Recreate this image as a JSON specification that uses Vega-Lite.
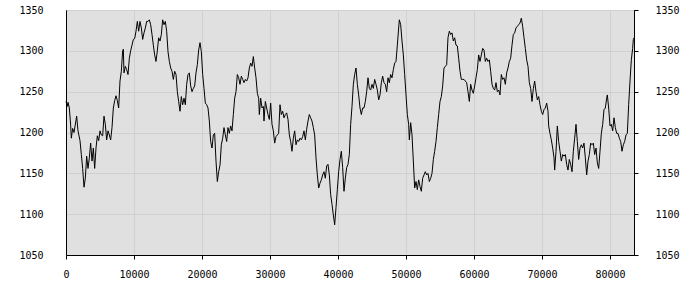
{
  "$schema": "https://vega.github.io/schema/vega-lite/v6.json",
  "width": 568,
  "height": 245,
  "autosize": {"type": "none"},
  "padding": {"left": 66, "top": 10, "right": 66, "bottom": 45},
  "background": "#ffffff",
  "config": {
    "view": {"fill": "#e0e0e0", "stroke": "#000000", "strokeWidth": 1},
    "axis": {
      "labelFont": "DejaVu Sans Mono",
      "labelFontSize": 10,
      "labelColor": "#000000",
      "labelFlush": false,
      "labelOverlap": false,
      "domainColor": "#000000",
      "tickColor": "#000000",
      "gridColor": "#d0d0d0",
      "gridOpacity": 1,
      "title": null
    }
  },
  "data": {
    "values": [
      {"t":0,"v":1238},{"t":196,"v":1232},{"t":294,"v":1237},{"t":490,"v":1230},{"t":686,"v":1209},{"t":784,"v":1193},{"t":981,"v":1205},{"t":1177,"v":1200},{"t":1569,"v":1220},{"t":1765,"v":1202},{"t":2059,"v":1190},{"t":2255,"v":1173},{"t":2451,"v":1156},{"t":2647,"v":1133},{"t":2843,"v":1144},{"t":3039,"v":1171},{"t":3235,"v":1156},{"t":3431,"v":1169},{"t":3628,"v":1187},{"t":3824,"v":1165},{"t":4020,"v":1181},{"t":4216,"v":1156},{"t":4412,"v":1181},{"t":4608,"v":1196},{"t":4804,"v":1190},{"t":5000,"v":1202},{"t":5196,"v":1197},{"t":5392,"v":1196},{"t":5588,"v":1220},{"t":5784,"v":1210},{"t":5981,"v":1191},{"t":6177,"v":1202},{"t":6373,"v":1197},{"t":6569,"v":1191},{"t":6765,"v":1206},{"t":6961,"v":1230},{"t":7157,"v":1239},{"t":7353,"v":1245},{"t":7549,"v":1239},{"t":7745,"v":1230},{"t":7941,"v":1263},{"t":8137,"v":1275},{"t":8333,"v":1300},{"t":8431,"v":1302},{"t":8530,"v":1273},{"t":8726,"v":1281},{"t":8922,"v":1277},{"t":9118,"v":1271},{"t":9314,"v":1291},{"t":9510,"v":1300},{"t":9706,"v":1307},{"t":9902,"v":1314},{"t":10098,"v":1315},{"t":10294,"v":1324},{"t":10490,"v":1336},{"t":10686,"v":1324},{"t":10882,"v":1336},{"t":11079,"v":1328},{"t":11275,"v":1314},{"t":11471,"v":1322},{"t":11667,"v":1328},{"t":11863,"v":1336},{"t":12059,"v":1336},{"t":12255,"v":1338},{"t":12451,"v":1332},{"t":12647,"v":1320},{"t":12843,"v":1307},{"t":13039,"v":1295},{"t":13235,"v":1287},{"t":13431,"v":1300},{"t":13628,"v":1316},
      {"t":13824,"v":1312},{"t":14020,"v":1320},{"t":14216,"v":1338},{"t":14412,"v":1332},{"t":14608,"v":1336},{"t":14804,"v":1324},{"t":15000,"v":1299},{"t":15197,"v":1287},{"t":15393,"v":1279},{"t":15589,"v":1275},{"t":15785,"v":1265},{"t":15981,"v":1275},{"t":16177,"v":1271},{"t":16373,"v":1250},{"t":16569,"v":1238},{"t":16765,"v":1226},{"t":16961,"v":1244},{"t":17157,"v":1234},{"t":17353,"v":1242},{"t":17549,"v":1234},{"t":17746,"v":1259},{"t":17942,"v":1271},{"t":18138,"v":1273},{"t":18334,"v":1257},{"t":18530,"v":1250},{"t":18726,"v":1254},{"t":18922,"v":1257},{"t":19118,"v":1273},{"t":19314,"v":1283},{"t":19510,"v":1301},{"t":19706,"v":1310},{"t":19902,"v":1299},{"t":20099,"v":1271},{"t":20295,"v":1254},{"t":20491,"v":1236},{"t":20687,"v":1234},{"t":20883,"v":1230},{"t":21079,"v":1214},{"t":21275,"v":1189},{"t":21471,"v":1181},{"t":21667,"v":1197},{"t":21863,"v":1199},{"t":22059,"v":1165},{"t":22255,"v":1140},{"t":22451,"v":1152},{"t":22648,"v":1160},{"t":22844,"v":1185},{"t":23040,"v":1193},{"t":23236,"v":1206},{"t":23432,"v":1197},{"t":23628,"v":1189},{"t":23824,"v":1206},{"t":24020,"v":1199},{"t":24216,"v":1208},{"t":24412,"v":1202},{"t":24608,"v":1222},{"t":24804,"v":1242},{"t":25001,"v":1250},{"t":25197,"v":1271},{"t":25393,"v":1267},{"t":25589,"v":1259},{"t":25785,"v":1269},{"t":25981,"v":1265},{"t":26177,"v":1261},{"t":26373,"v":1265},{"t":26569,"v":1263},{"t":26765,"v":1267},{"t":26961,"v":1279},{"t":27157,"v":1285},{"t":27353,"v":1281},{"t":27550,"v":1293},{"t":27746,"v":1279},
      {"t":27941,"v":1267},{"t":28137,"v":1248},{"t":28333,"v":1242},{"t":28431,"v":1222},{"t":28627,"v":1242},{"t":28823,"v":1230},{"t":29019,"v":1232},{"t":29117,"v":1214},{"t":29314,"v":1238},{"t":29510,"v":1230},{"t":29706,"v":1222},{"t":29902,"v":1216},{"t":30098,"v":1236},{"t":30294,"v":1210},{"t":30490,"v":1202},{"t":30686,"v":1187},{"t":30882,"v":1195},{"t":31078,"v":1197},{"t":31274,"v":1199},{"t":31470,"v":1234},{"t":31667,"v":1222},{"t":31863,"v":1226},{"t":32059,"v":1218},{"t":32255,"v":1222},{"t":32451,"v":1224},{"t":32647,"v":1216},{"t":32843,"v":1197},{"t":33039,"v":1189},{"t":33235,"v":1177},{"t":33431,"v":1193},{"t":33628,"v":1202},{"t":33824,"v":1185},{"t":34020,"v":1191},{"t":34216,"v":1189},{"t":34412,"v":1193},{"t":34608,"v":1191},{"t":34804,"v":1195},{"t":35000,"v":1202},{"t":35196,"v":1191},{"t":35392,"v":1204},{"t":35588,"v":1214},{"t":35784,"v":1222},{"t":35980,"v":1218},{"t":36176,"v":1214},{"t":36372,"v":1206},{"t":36568,"v":1197},{"t":36765,"v":1169},{"t":36961,"v":1148},{"t":37157,"v":1132},{"t":37353,"v":1138},{"t":37549,"v":1142},{"t":37745,"v":1148},{"t":37941,"v":1152},{"t":38137,"v":1144},{"t":38333,"v":1159},{"t":38529,"v":1161},{"t":38725,"v":1148},{"t":38921,"v":1124},{"t":39118,"v":1112},{"t":39314,"v":1099},{"t":39510,"v":1087},{"t":39706,"v":1108},{"t":39902,"v":1130},{"t":40098,"v":1152},{"t":40294,"v":1167},{"t":40490,"v":1177},{"t":40686,"v":1157},{"t":40882,"v":1128},{"t":41078,"v":1144},{"t":41274,"v":1157},{"t":41470,"v":1161},{"t":41666,"v":1173},{"t":41863,"v":1210},
      {"t":42059,"v":1232},{"t":42255,"v":1259},{"t":42451,"v":1271},{"t":42647,"v":1279},{"t":42843,"v":1259},{"t":43039,"v":1246},{"t":43235,"v":1230},{"t":43432,"v":1222},{"t":43628,"v":1230},{"t":43824,"v":1230},{"t":44020,"v":1238},{"t":44216,"v":1250},{"t":44412,"v":1267},{"t":44608,"v":1254},{"t":44804,"v":1252},{"t":45000,"v":1259},{"t":45196,"v":1254},{"t":45392,"v":1265},{"t":45588,"v":1259},{"t":45784,"v":1252},{"t":45981,"v":1240},{"t":46177,"v":1246},{"t":46373,"v":1261},{"t":46569,"v":1269},{"t":46765,"v":1261},{"t":46961,"v":1259},{"t":47157,"v":1250},{"t":47353,"v":1267},{"t":47549,"v":1261},{"t":47745,"v":1271},{"t":47941,"v":1267},{"t":48137,"v":1277},{"t":48334,"v":1285},{"t":48530,"v":1287},{"t":48726,"v":1307},{"t":48922,"v":1328},{"t":49020,"v":1338},{"t":49216,"v":1332},{"t":49412,"v":1312},{"t":49608,"v":1295},{"t":49804,"v":1271},{"t":50000,"v":1246},{"t":50196,"v":1222},{"t":50392,"v":1210},{"t":50490,"v":1191},{"t":50686,"v":1212},{"t":50883,"v":1197},{"t":51079,"v":1165},{"t":51275,"v":1132},{"t":51471,"v":1140},{"t":51667,"v":1130},{"t":51863,"v":1142},{"t":52059,"v":1134},{"t":52255,"v":1128},{"t":52451,"v":1144},{"t":52647,"v":1148},{"t":52843,"v":1152},{"t":53039,"v":1148},{"t":53236,"v":1150},{"t":53432,"v":1140},{"t":53628,"v":1144},{"t":53824,"v":1150},{"t":54020,"v":1167},{"t":54216,"v":1177},{"t":54412,"v":1189},{"t":54608,"v":1206},{"t":54804,"v":1222},{"t":55000,"v":1238},{"t":55196,"v":1244},{"t":55392,"v":1257},{"t":55588,"v":1279},{"t":55785,"v":1281},{"t":55981,"v":1283},
      {"t":56176,"v":1316},{"t":56372,"v":1324},{"t":56568,"v":1320},{"t":56764,"v":1322},{"t":56960,"v":1312},{"t":57156,"v":1316},{"t":57352,"v":1307},{"t":57549,"v":1306},{"t":57745,"v":1291},{"t":57941,"v":1275},{"t":58137,"v":1265},{"t":58333,"v":1265},{"t":58529,"v":1265},{"t":58725,"v":1263},{"t":58921,"v":1261},{"t":59117,"v":1250},{"t":59313,"v":1238},{"t":59509,"v":1259},{"t":59705,"v":1252},{"t":59902,"v":1248},{"t":60098,"v":1257},{"t":60294,"v":1267},{"t":60490,"v":1277},{"t":60686,"v":1295},{"t":60882,"v":1287},{"t":61078,"v":1295},{"t":61274,"v":1303},{"t":61470,"v":1301},{"t":61666,"v":1287},{"t":61862,"v":1291},{"t":62058,"v":1287},{"t":62254,"v":1289},{"t":62451,"v":1275},{"t":62647,"v":1259},{"t":62843,"v":1254},{"t":63039,"v":1252},{"t":63235,"v":1261},{"t":63431,"v":1250},{"t":63627,"v":1252},{"t":63823,"v":1246},{"t":64019,"v":1271},{"t":64215,"v":1265},{"t":64411,"v":1267},{"t":64607,"v":1259},{"t":64804,"v":1273},{"t":65000,"v":1279},{"t":65196,"v":1287},{"t":65392,"v":1291},{"t":65588,"v":1307},{"t":65784,"v":1320},{"t":65980,"v":1322},{"t":66176,"v":1328},{"t":66372,"v":1330},{"t":66568,"v":1332},{"t":66764,"v":1334},{"t":66960,"v":1340},{"t":67157,"v":1330},{"t":67353,"v":1316},{"t":67549,"v":1303},{"t":67745,"v":1289},{"t":67941,"v":1281},{"t":68137,"v":1261},{"t":68333,"v":1254},{"t":68529,"v":1238},{"t":68725,"v":1254},{"t":68921,"v":1263},{"t":69117,"v":1250},{"t":69313,"v":1240},{"t":69509,"v":1244},{"t":69706,"v":1234},{"t":69902,"v":1226},{"t":70098,"v":1222},
      {"t":70294,"v":1228},{"t":70490,"v":1230},{"t":70686,"v":1236},{"t":70882,"v":1226},{"t":70980,"v":1208},{"t":71176,"v":1199},{"t":71372,"v":1191},{"t":71569,"v":1181},{"t":71765,"v":1169},{"t":71863,"v":1154},{"t":72059,"v":1177},{"t":72255,"v":1208},{"t":72451,"v":1189},{"t":72647,"v":1177},{"t":72843,"v":1165},{"t":73039,"v":1173},{"t":73235,"v":1171},{"t":73431,"v":1173},{"t":73627,"v":1161},{"t":73823,"v":1154},{"t":74020,"v":1167},{"t":74216,"v":1161},{"t":74412,"v":1152},{"t":74608,"v":1177},{"t":74804,"v":1193},{"t":75000,"v":1210},{"t":75196,"v":1189},{"t":75392,"v":1167},{"t":75588,"v":1181},{"t":75784,"v":1185},{"t":75980,"v":1181},{"t":76176,"v":1187},{"t":76373,"v":1169},{"t":76569,"v":1148},{"t":76765,"v":1165},{"t":76961,"v":1173},{"t":77157,"v":1187},{"t":77353,"v":1185},{"t":77549,"v":1187},{"t":77745,"v":1173},{"t":77941,"v":1181},{"t":78137,"v":1163},{"t":78333,"v":1156},{"t":78529,"v":1177},{"t":78725,"v":1199},{"t":78922,"v":1210},{"t":79118,"v":1228},{"t":79314,"v":1230},{"t":79510,"v":1242},{"t":79608,"v":1246},{"t":79804,"v":1230},{"t":80000,"v":1208},{"t":80196,"v":1210},{"t":80392,"v":1202},{"t":80588,"v":1218},{"t":80784,"v":1206},{"t":80980,"v":1199},{"t":81176,"v":1199},{"t":81373,"v":1193},{"t":81569,"v":1189},{"t":81765,"v":1177},{"t":81961,"v":1185},{"t":82157,"v":1189},{"t":82353,"v":1197},{"t":82549,"v":1199},{"t":82745,"v":1234},{"t":82941,"v":1263},{"t":83137,"v":1289},{"t":83333,"v":1303},{"t":83431,"v":1314},{"t":83529,"v":1316}
    ]
  },
  "layer": [
    {
      "mark": {"type": "line", "color": "#000000", "strokeWidth": 1, "interpolate": "linear"},
      "encoding": {
        "x": {
          "field": "t", "type": "quantitative",
          "scale": {"domain": [0, 83529], "nice": false, "zero": false},
          "axis": {"orient": "bottom", "values": [0,10000,20000,30000,40000,50000,60000,70000,80000], "format": "d", "grid": true, "tickSize": 4, "labelPadding": 10, "domain": true}
        },
        "y": {
          "field": "v", "type": "quantitative",
          "scale": {"domain": [1050, 1350], "nice": false, "zero": false},
          "axis": {"orient": "left", "values": [1050,1100,1150,1200,1250,1300,1350], "format": "d", "grid": true, "ticks": false, "tickSize": 0, "labelPadding": 23, "domain": true}
        }
      }
    },
    {
      "mark": {"type": "line", "color": "#000000", "strokeOpacity": 0},
      "encoding": {
        "x": {"field": "t", "type": "quantitative"},
        "y": {
          "field": "v", "type": "quantitative",
          "axis": {"orient": "right", "values": [1050,1100,1150,1200,1250,1300,1350], "format": "d", "grid": false, "ticks": true, "tickSize": 4, "labelPadding": 17, "domain": true}
        }
      }
    }
  ],
  "resolve": {"axis": {"y": "independent"}}
}
